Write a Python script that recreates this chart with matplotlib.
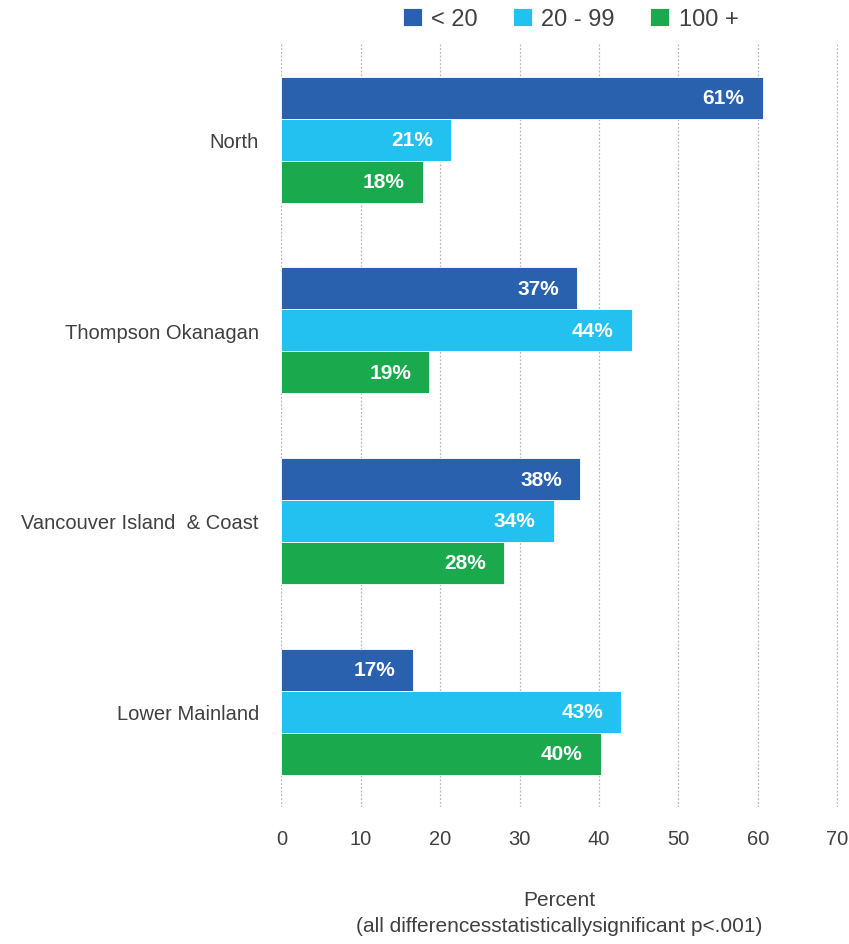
import matplotlib.pyplot as plt
import numpy as np

# dados (regiões de cima para baixo)
regioes = ['North', 'Thompson Okanagan', 'Vancouver Island  & Coast', 'Lower Mainland']
series = ['< 20', '20 - 99', '100 +']
menos_20 = [60.6, 37.2, 37.6, 16.6]
de_20_99 = [21.4, 44.1, 34.3, 42.8]
mais_100 = [17.8, 18.6, 28.0, 40.2]
valores = [menos_20, de_20_99, mais_100]
cores = ['#2a61ae', '#22c1ef', '#1aa94c']

plt.rcParams['font.family'] = ['Liberation Sans', 'DejaVu Sans']
cinza = '#404040'

fig = plt.figure(figsize=(8.49, 9.45), dpi=100)
ax = fig.add_axes([0.331, 0.145, 0.656, 0.807])

y = np.arange(len(regioes))
altura = 0.22

for i, (nome, vals, cor) in enumerate(zip(series, valores, cores)):
    pos = y + (i - 1) * altura
    barras = ax.barh(pos, vals, height=altura, color=cor, label=nome,
                     edgecolor='white', linewidth=0.6, zorder=3)
    for b, v in zip(barras, vals):
        ax.annotate(f'{round(v)}%', (v, b.get_y() + b.get_height() / 2),
                    xytext=(-13, 0), textcoords='offset points',
                    ha='right', va='center', color='white',
                    fontsize=15, fontweight='bold', zorder=4)

ax.set_ylim(len(regioes) - 0.5, -0.5)
ax.set_xlim(-0.05, 70.1)
ax.set_xticks(range(0, 71, 10))
ax.set_yticks(y)
ax.set_yticklabels(regioes)

ax.grid(axis='x', linestyle=(0, (1.5, 1.5)), color='#b8b8b8', linewidth=0.9, zorder=0)
for s in ax.spines.values():
    s.set_visible(False)
ax.tick_params(axis='both', length=0, labelsize=14.5, colors=cinza)
ax.tick_params(axis='x', pad=16)
ax.tick_params(axis='y', pad=16)

ax.set_xlabel('Percent\n(all differencesstatisticallysignificant p<.001)',
              fontsize=15, color=cinza, labelpad=30, linespacing=1.5)

ax.legend(loc='lower center', bbox_to_anchor=(0.52, 1.0), ncol=3, frameon=False,
          fontsize=17, labelcolor=cinza, handlelength=0.8, handleheight=0.8,
          handletextpad=0.4, columnspacing=1.5, borderaxespad=0.2)

fig.savefig('out.png', dpi=100)
